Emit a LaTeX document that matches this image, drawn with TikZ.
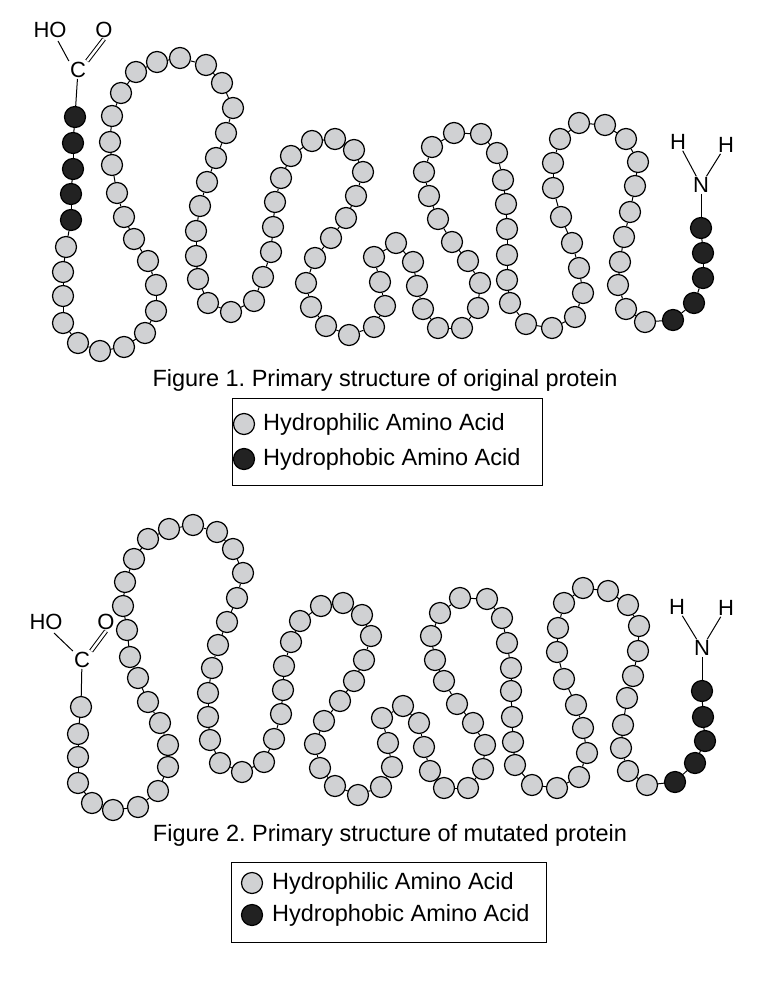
\documentclass[tikz,border=0pt]{standalone}
\usepackage{fontspec}
\setmainfont{Liberation Sans}
\frenchspacing
\definecolor{gr}{HTML}{D0D1D3}
\definecolor{bk}{HTML}{222222}
\begin{document}
\begin{tikzpicture}[x=1pt,y=-1pt,
  bead/.style={circle,draw=black,line width=1.2pt,minimum size=21pt,inner sep=0pt},
  bond/.style={line width=1pt},
  atom/.style={inner sep=1pt,font=\fontsize{22}{22}\selectfont},
  lbl/.style={font=\fontsize{23.5}{26}\selectfont,inner sep=0pt},
  legbox/.style={draw=black,line width=1pt}]
\useasboundingbox (0,0) rectangle (776,983);
% ---------- Figure 1 ----------
\foreach \x/\y/\c [count=\i, remember=\i as \j (initially 0)] in {
75/117/bk,73/143/bk,73/169/bk,71/194/bk,71/220/bk,
66/247/gr,63/272/gr,63/296/gr,63/323/gr,78/343/gr,100/351/gr,124/347/gr,145/333/gr,156/311/gr,156/285/gr,148/261/gr,134/239/gr,124/217/gr,117/193/gr,112/165/gr,110/142/gr,112/116/gr,121/93/gr,136/72/gr,157/62/gr,180/58/gr,206/65/gr,222/83/gr,233/108/gr,226/133/gr,216/158/gr,207/182/gr,200/206/gr,196/231/gr,196/256/gr,198/279/gr,208/303/gr,231/312/gr,254/301/gr,263/277/gr,271/252/gr,273/227/gr,275/202/gr,281/178/gr,291/156/gr,312/141/gr,335/139/gr,354/150/gr,363/172/gr,356/196/gr,346/218/gr,331/238/gr,315/258/gr,306/283/gr,311/307/gr,326/326/gr,349/335/gr,374/327/gr,385/306/gr,380/282/gr,374/257/gr,396/243/gr,413/262/gr,417/286/gr,423/309/gr,438/328/gr,462/328/gr,478/308/gr,480/283/gr,468/261/gr,452/242/gr,438/219/gr,429/196/gr,424/172/gr,432/147/gr,454/133/gr,481/134/gr,497/153/gr,503/180/gr,506/204/gr,507/229/gr,507/255/gr,507/280/gr,510/303/gr,526/324/gr,552/328/gr,575/317/gr,583/293/gr,579/268/gr,572/243/gr,561/217/gr,553/188/gr,553/163/gr,560/139/gr,579/123/gr,605/125/gr,626/139/gr,638/162/gr,635/186/gr,630/212/gr,624/237/gr,620/262/gr,618/285/gr,626/309/gr,645/322/gr,
673/320/bk,694/303/bk,703/278/bk,703/253/bk,701/228/bk}{
  \node[bead,fill=\c] (f\i) at (\x,\y) {};
  \ifnum\i>1 \draw[bond] (f\j) -- (f\i); \fi
  \xdef\lastf{\i}
}
\node[atom] (C1) at (78,70) {C};
\node[atom] (HO1) at (50,30) {HO};
\node[atom] (O1) at (104,30) {O};
\draw[bond] (C1) -- (f1);
\draw[bond] (HO1.south) ++(8,2) -- (C1.north west);
\draw[bond,double,double distance=2.5pt] (C1.north east) -- (O1.south);
\node[atom] (N1) at (701,185) {N};
\node[atom] (H1a) at (678,142) {H};
\node[atom] (H1b) at (726,145) {H};
\draw[bond] (N1) -- (f\lastf);
\draw[bond] (H1a) -- (N1);
\draw[bond] (H1b) -- (N1);
\node[lbl] (cap1) at (385,380) {Figure 1. Primary structure of original protein};
\draw[legbox] (232,398) rectangle (542,485);
\node[bead,fill=gr] (l1a) at (244,424) {};
\node[bead,fill=bk] (l1b) at (244,459) {};
\node[lbl,anchor=west] (t1a) at (263,424) {Hydrophilic Amino Acid};
\node[lbl,anchor=west] (t1b) at (263,459) {Hydrophobic Amino Acid};
% ---------- Figure 2 ----------
\foreach \x/\y/\c [count=\i, remember=\i as \j (initially 0)] in {
81/707/gr,78/734/gr,78/757/gr,78/783/gr,92/803/gr,113/810/gr,138/807/gr,158/791/gr,168/767/gr,168/745/gr,160/723/gr,148/702/gr,138/678/gr,130/657/gr,127/630/gr,123/606/gr,125/582/gr,134/559/gr,148/539/gr,169/529/gr,193/525/gr,217/532/gr,233/549/gr,243/573/gr,237/598/gr,227/622/gr,218/645/gr,212/668/gr,208/693/gr,208/717/gr,210/740/gr,220/763/gr,242/772/gr,264/762/gr,274/739/gr,281/714/gr,283/690/gr,284/666/gr,291/642/gr,300/621/gr,321/606/gr,343/603/gr,362/615/gr,371/636/gr,364/660/gr,354/681/gr,340/701/gr,324/721/gr,315/744/gr,320/768/gr,335/786/gr,358/795/gr,381/787/gr,392/767/gr,388/743/gr,382/718/gr,403/706/gr,419/723/gr,424/747/gr,430/771/gr,444/788/gr,468/788/gr,483/769/gr,485/745/gr,473/723/gr,457/704/gr,444/681/gr,435/660/gr,431/636/gr,440/613/gr,460/598/gr,487/599/gr,502/618/gr,507/643/gr,511/668/gr,511/691/gr,512/717/gr,513/742/gr,515/765/gr,532/785/gr,557/788/gr,579/777/gr,587/753/gr,583/728/gr,576/705/gr,564/679/gr,557/652/gr,558/628/gr,564/603/gr,583/588/gr,608/591/gr,628/605/gr,639/626/gr,638/651/gr,633/676/gr,627/698/gr,623/725/gr,621/748/gr,628/771/gr,647/785/gr,
675/782/bk,695/763/bk,705/741/bk,703/717/bk,702/691/bk}{
  \node[bead,fill=\c] (s\i) at (\x,\y) {};
  \ifnum\i>1 \draw[bond] (s\j) -- (s\i); \fi
  \xdef\lasts{\i}
}
\node[atom] (C2) at (82,660) {C};
\node[atom] (HO2) at (46,622) {HO};
\node[atom] (O2) at (106,622) {O};
\draw[bond] (C2) -- (s1);
\draw[bond] (HO2.south) ++(8,2) -- (C2.north west);
\draw[bond,double,double distance=2.5pt] (C2.north east) -- (O2.south);
\node[atom] (N2) at (702,648) {N};
\node[atom] (H2a) at (677,607) {H};
\node[atom] (H2b) at (726,608) {H};
\draw[bond] (N2) -- (s\lasts);
\draw[bond] (H2a) -- (N2);
\draw[bond] (H2b) -- (N2);
\node[lbl] (cap2) at (390,835) {Figure 2. Primary structure of mutated protein};
\draw[legbox] (231,862) rectangle (546,942);
\node[bead,fill=gr] (l2a) at (252,883) {};
\node[bead,fill=bk] (l2b) at (252,915) {};
\node[lbl,anchor=west] (t2a) at (272,883) {Hydrophilic Amino Acid};
\node[lbl,anchor=west] (t2b) at (272,915) {Hydrophobic Amino Acid};
\end{tikzpicture}
\end{document}
